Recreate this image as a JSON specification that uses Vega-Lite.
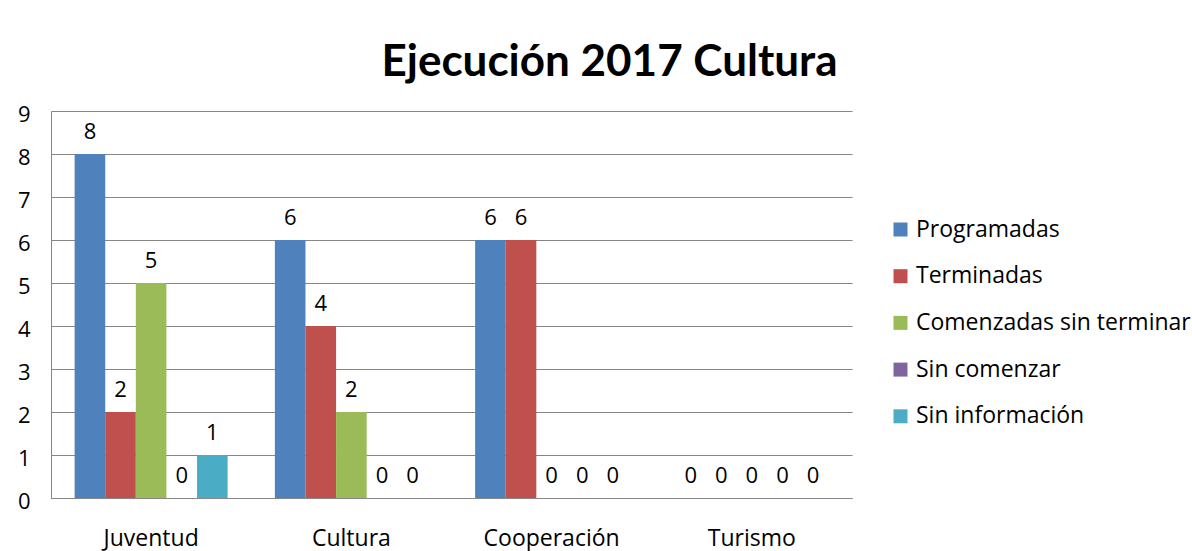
{
  "$schema": "https://vega.github.io/schema/vega-lite/v6.json",
  "width": 801,
  "height": 387,
  "autosize": {"type": "none"},
  "padding": {"left": 51, "top": 111, "right": 340, "bottom": 53},
  "background": "white",
  "title": {
    "text": "Ejecución 2017 Cultura",
    "font": "Lato",
    "fontSize": 44,
    "fontWeight": "bold",
    "color": "black",
    "anchor": "middle",
    "frame": "group",
    "baseline": "alphabetic",
    "offset": 36,
    "dx": 158,
    "dy": 53
  },
  "data": {
    "values": [
      {"categoria": "Juventud", "serie": "Programadas", "valor": 8},
      {"categoria": "Juventud", "serie": "Terminadas", "valor": 2},
      {"categoria": "Juventud", "serie": "Comenzadas sin terminar", "valor": 5},
      {"categoria": "Juventud", "serie": "Sin comenzar", "valor": 0},
      {"categoria": "Juventud", "serie": "Sin información", "valor": 1},
      {"categoria": "Cultura", "serie": "Programadas", "valor": 6},
      {"categoria": "Cultura", "serie": "Terminadas", "valor": 4},
      {"categoria": "Cultura", "serie": "Comenzadas sin terminar", "valor": 2},
      {"categoria": "Cultura", "serie": "Sin comenzar", "valor": 0},
      {"categoria": "Cultura", "serie": "Sin información", "valor": 0},
      {"categoria": "Cooperación", "serie": "Programadas", "valor": 6},
      {"categoria": "Cooperación", "serie": "Terminadas", "valor": 6},
      {"categoria": "Cooperación", "serie": "Comenzadas sin terminar", "valor": 0},
      {"categoria": "Cooperación", "serie": "Sin comenzar", "valor": 0},
      {"categoria": "Cooperación", "serie": "Sin información", "valor": 0},
      {"categoria": "Turismo", "serie": "Programadas", "valor": 0},
      {"categoria": "Turismo", "serie": "Terminadas", "valor": 0},
      {"categoria": "Turismo", "serie": "Comenzadas sin terminar", "valor": 0},
      {"categoria": "Turismo", "serie": "Sin comenzar", "valor": 0},
      {"categoria": "Turismo", "serie": "Sin información", "valor": 0}
    ]
  },
  "encoding": {
    "x": {
      "field": "categoria",
      "type": "nominal",
      "sort": ["Juventud", "Cultura", "Cooperación", "Turismo"],
      "scale": {"paddingInner": 0.236, "paddingOuter": 0.118},
      "axis": {
        "title": null,
        "labelAngle": 0,
        "ticks": false,
        "domainColor": "#868686",
        "domainWidth": 1,
        "labelFont": "Open Sans",
        "labelFontSize": 23,
        "labelColor": "black",
        "labelPadding": 29
      }
    },
    "xOffset": {
      "field": "serie",
      "type": "nominal",
      "sort": ["Programadas", "Terminadas", "Comenzadas sin terminar", "Sin comenzar", "Sin información"],
      "scale": {"paddingInner": 0, "paddingOuter": 0}
    },
    "y": {
      "field": "valor",
      "type": "quantitative",
      "scale": {"domain": [0, 9], "nice": false},
      "axis": {
        "title": null,
        "values": [0, 1, 2, 3, 4, 5, 6, 7, 8, 9],
        "format": "d",
        "grid": true,
        "gridColor": "#868686",
        "gridWidth": 1,
        "domain": true,
        "domainColor": "#868686",
        "ticks": false,
        "labelPadding": 21,
        "labelFont": "Open Sans",
        "labelFontSize": 22,
        "labelColor": "black",
        "labelOffset": 3
      }
    }
  },
  "layer": [
    {
      "mark": {"type": "bar"},
      "encoding": {
        "color": {
          "field": "serie",
          "type": "nominal",
          "sort": ["Programadas", "Terminadas", "Comenzadas sin terminar", "Sin comenzar", "Sin información"],
          "scale": {
            "domain": ["Programadas", "Terminadas", "Comenzadas sin terminar", "Sin comenzar", "Sin información"],
            "range": ["#4F81BD", "#C0504D", "#9BBB59", "#8064A2", "#4BACC6"]
          },
          "legend": {
            "title": null,
            "orient": "none",
            "legendX": 838,
            "legendY": 107,
            "padding": 0,
            "symbolType": "square",
            "symbolSize": 196,
            "symbolStrokeWidth": 0,
            "labelFont": "Open Sans",
            "labelFontSize": 23,
            "labelColor": "black",
            "labelOffset": 4,
            "rowPadding": 22.7,
            "labelLimit": 400
          }
        }
      }
    },
    {
      "mark": {"type": "text", "dy": -15, "baseline": "alphabetic", "font": "Open Sans", "fontSize": 22, "color": "black"},
      "encoding": {"text": {"field": "valor", "type": "quantitative"}}
    }
  ],
  "config": {"view": {"stroke": null}}
}
